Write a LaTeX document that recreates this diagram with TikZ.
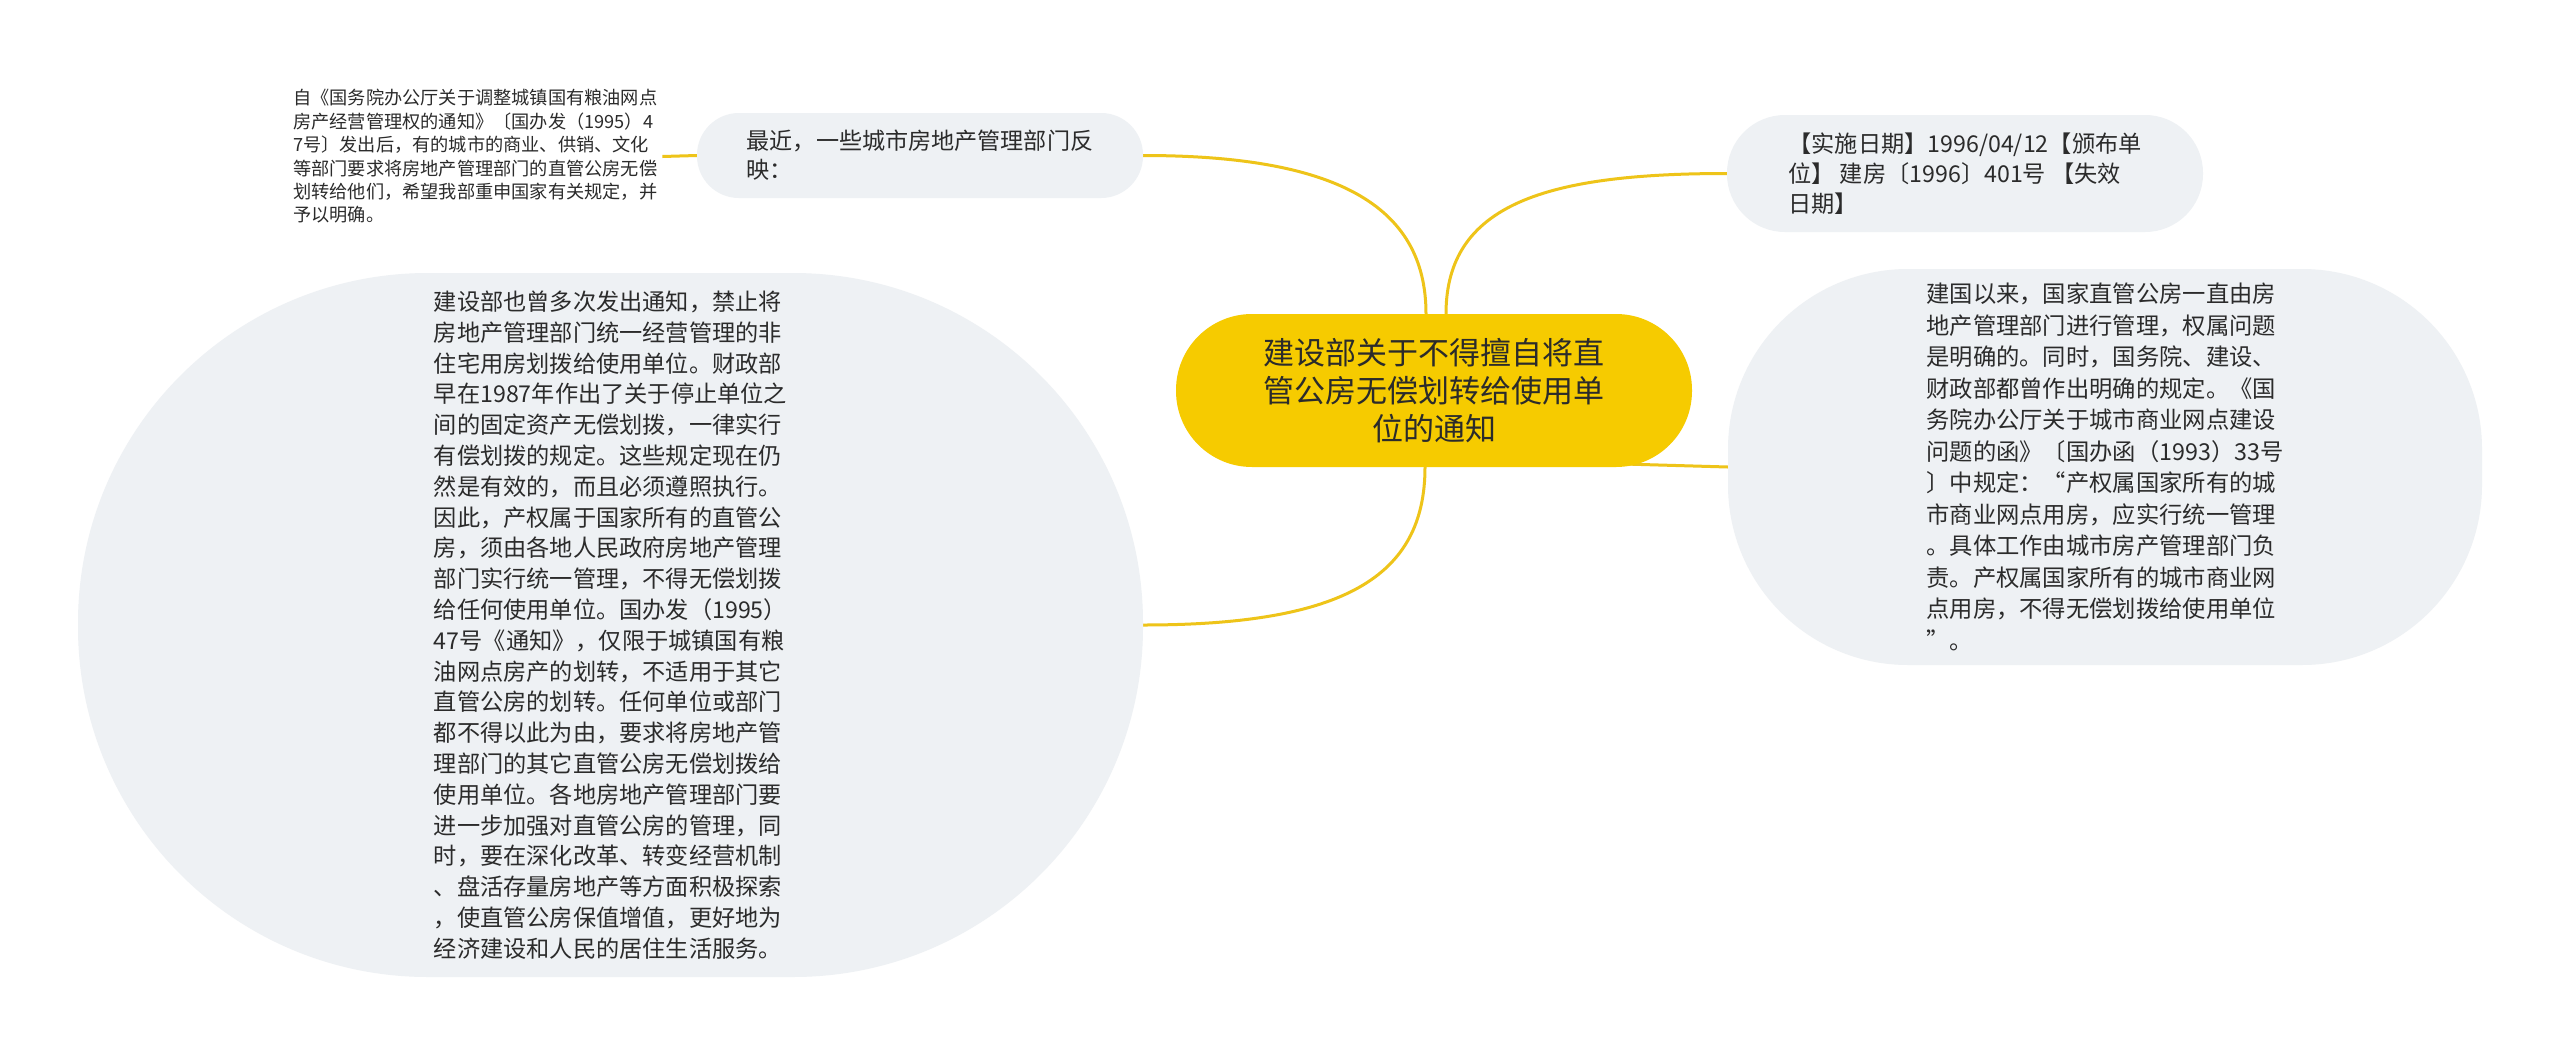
\documentclass[tikz,border=0pt]{standalone}
\usepackage{fontspec}
\setmainfont{Noto Sans CJK SC}
\usetikzlibrary{backgrounds,calc}
\definecolor{gold}{HTML}{F6CB00}
\definecolor{bub}{HTML}{EEF1F4}
\definecolor{linkc}{HTML}{EEC419}
\definecolor{ink}{HTML}{2B2B2B}
\begin{document}
\begin{tikzpicture}[x=1pt,y=-1pt,
  bubble/.style={fill=bub, draw=none, inner sep=0pt, align=left, text=ink},
  txt/.style={inner sep=0pt, align=left, text=ink},
  linkline/.style={draw=linkc, line width=3pt},
]
\useasboundingbox (0,0) rectangle (2560,1055);

\node[bubble, fill=gold, minimum width=516pt, minimum height=153pt, rounded corners=76pt,
  align=center, font=\fontsize{31}{38.3}\selectfont] (center) at (1434,390.5)
  {建设部关于不得擅自将直\\管公房无偿划转给使用单\\位的通知};

\node[txt, anchor=west, font=\fontsize{18.2}{23.4}\selectfont] (small) at (293,156.5)
  {自《国务院办公厅关于调整城镇国有粮油网点\\房产经营管理权的通知》〔国办发（1995）4\\7号〕发出后，有的城市的商业、供销、文化\\等部门要求将房地产管理部门的直管公房无偿\\划转给他们，希望我部重申国家有关规定，并\\予以明确。};

\node[bubble, minimum width=446pt, minimum height=85pt, rounded corners=42pt,
  font=\fontsize{23.1}{29}\selectfont] (tl) at (920,155.5)
  {最近，一些城市房地产管理部门反\\映：};

\node[bubble, minimum width=476pt, minimum height=117pt, rounded corners=58pt,
  font=\fontsize{23.2}{30}\selectfont] (tr) at (1965,173.5)
  {【实施日期】1996/04/12【颁布单\\位】 建房〔1996〕401号 【失效\\日期】};

\node[bubble, minimum width=1065pt, minimum height=704pt, rounded corners=350pt,
  font=\fontsize{23.2}{30.8}\selectfont] (left) at (610.5,625)
  {建设部也曾多次发出通知，禁止将\\房地产管理部门统一经营管理的非\\住宅用房划拨给使用单位。财政部\\早在1987年作出了关于停止单位之\\间的固定资产无偿划拨，一律实行\\有偿划拨的规定。这些规定现在仍\\然是有效的，而且必须遵照执行。\\因此，产权属于国家所有的直管公\\房，须由各地人民政府房地产管理\\部门实行统一管理，不得无偿划拨\\给任何使用单位。国办发（1995）\\47号《通知》，仅限于城镇国有粮\\油网点房产的划转，不适用于其它\\直管公房的划转。任何单位或部门\\都不得以此为由，要求将房地产管\\理部门的其它直管公房无偿划拨给\\使用单位。各地房地产管理部门要\\进一步加强对直管公房的管理，同\\时，要在深化改革、转变经营机制\\、盘活存量房地产等方面积极探索\\，使直管公房保值增值，更好地为\\经济建设和人民的居住生活服务。};

\node[bubble, minimum width=754pt, minimum height=396pt, rounded corners=180pt,
  font=\fontsize{23.3}{31.5}\selectfont] (right) at (2105,467)
  {建国以来，国家直管公房一直由房\\地产管理部门进行管理，权属问题\\是明确的。同时，国务院、建设、\\财政部都曾作出明确的规定。《国\\务院办公厅关于城市商业网点建设\\问题的函》〔国办函（1993）33号\\〕中规定：“产权属国家所有的城\\市商业网点用房，应实行统一管理\\。具体工作由城市房产管理部门负\\责。产权属国家所有的城市商业网\\点用房，不得无偿划拨给使用单位\\”。};

\begin{pgfonlayer}{background}
\fill[white] (0,0) rectangle (2560,1055);
\draw[linkline] (tl.east) .. controls +(190,0) and +(0,-110) .. ($(center.north)+(-8,0)$);
\draw[linkline] ($(center.north)+(12,0)$) .. controls +(0,-110) and +(-180,0) .. (tr.west);
\draw[linkline] ($(center.south)+(-9,0)$) .. controls +(0,110) and +(200,0) .. (left.east);
\draw[linkline] ($(center.center)+(0,68)$) -- (right.west);
\draw[linkline] ($(small.east)+(5,0)$) -- (tl.west);
\end{pgfonlayer}
\end{tikzpicture}
\end{document}
